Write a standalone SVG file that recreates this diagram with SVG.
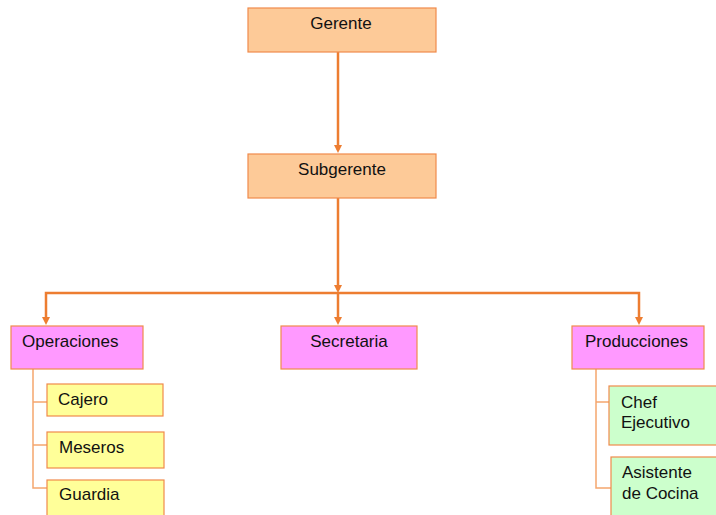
<svg xmlns="http://www.w3.org/2000/svg" width="716" height="515" viewBox="0 0 716 515">
<defs>
<style>
text{font-family:"Liberation Sans",Arial,sans-serif;font-size:17px;fill:#111}
.o{fill:#FDCA98;stroke:#F08A4B;stroke-width:1.2}
.m{fill:#FF99FF;stroke:#F08A4B;stroke-width:1.2}
.y{fill:#FFFF99;stroke:#F08A4B;stroke-width:1.2}
.g{fill:#CCFFCC;stroke:#F08A4B;stroke-width:1.2}
.c{fill:none;stroke:#ED7D31;stroke-width:2.5}
.s{fill:none;stroke:#F5A66E;stroke-width:1.5}
.h{fill:#ED7D31}
</style>
</defs>
<g id="connectors">
<line class="c" x1="338" y1="52" x2="338" y2="150" stroke-width="2"/>
<path class="h" d="M334,145 L342,145 L338,153 Z"/>
<line class="c" x1="338" y1="198" x2="338" y2="290" stroke-width="2"/>
<path class="h" d="M334,285 L342,285 L338,293 Z"/>
<polyline class="c" points="46,320 46,293 639,293 639,320"/>
<path class="h" d="M42,317 L50,317 L46,325 Z"/>
<path class="h" d="M635,317 L643,317 L639,325 Z"/>
<line class="c" x1="338" y1="293" x2="338" y2="320" stroke-width="2"/>
<path class="h" d="M334,317 L342,317 L338,325 Z"/>
<polyline class="s" points="33,369 33,488 47,488"/>
<polyline class="s" points="33,402 47,402"/>
<polyline class="s" points="33,445 47,445"/>
<polyline class="s" points="596,369 596,488 611,488"/>
<polyline class="s" points="596,402 609,402"/>
</g>
<g id="gerente"><rect class="o" x="248" y="8" width="188" height="44"/><text x="341" y="29" text-anchor="middle">Gerente</text></g>
<g id="subgerente"><rect class="o" x="248" y="154" width="188" height="44"/><text x="342" y="175" text-anchor="middle">Subgerente</text></g>
<g id="operaciones"><rect class="m" x="11" y="326" width="132" height="43"/><text x="22" y="347">Operaciones</text></g>
<g id="secretaria"><rect class="m" x="281" y="326" width="136" height="43"/><text x="349" y="347" text-anchor="middle">Secretaria</text></g>
<g id="producciones"><rect class="m" x="572" y="326" width="132" height="43"/><text x="585" y="347">Producciones</text></g>
<g id="cajero"><rect class="y" x="47" y="384" width="116" height="32"/><text x="58" y="405">Cajero</text></g>
<g id="meseros"><rect class="y" x="47" y="432" width="117" height="36"/><text x="59" y="453">Meseros</text></g>
<g id="guardia"><rect class="y" x="47" y="480" width="117" height="40"/><text x="59" y="500">Guardia</text></g>
<g id="chef"><rect class="g" x="609" y="386" width="112" height="59"/><text x="621" y="408">Chef</text><text x="621" y="428">Ejecutivo</text></g>
<g id="asistente"><rect class="g" x="611" y="457" width="110" height="62"/><text x="622" y="478">Asistente</text><text x="622" y="499">de Cocina</text></g>
</svg>
